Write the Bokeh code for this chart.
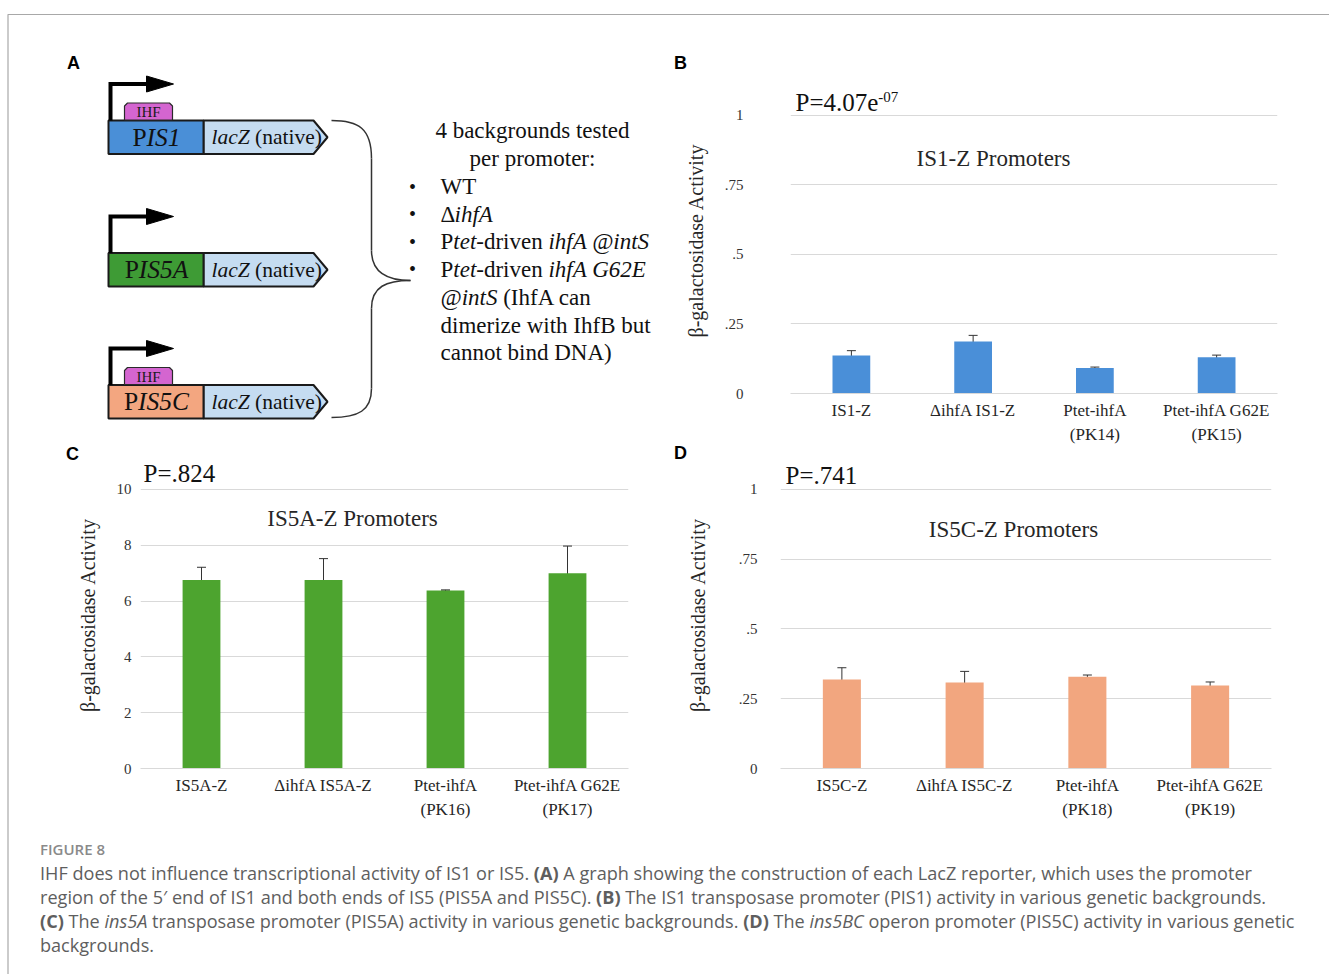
from bokeh.plotting import figure
from bokeh.models import (FactorRange, Range1d, FixedTicker, Whisker, TeeHead,
                          ColumnDataSource, Label, Div)
from bokeh.core.properties import value
from bokeh.embed import file_html
from bokeh.resources import INLINE

# ------------------------------------------------------------------ data
b_categories = ["IS1-Z", "ΔihfA IS1-Z", "Ptet-ihfA\n(PK14)", "Ptet-ihfA G62E\n(PK15)"]
b_means = [0.137, 0.187, 0.092, 0.130]
b_errors = [0.017, 0.022, 0.003, 0.008]

c_categories = ["IS5A-Z", "ΔihfA IS5A-Z", "Ptet-ihfA\n(PK16)", "Ptet-ihfA G62E\n(PK17)"]
c_means = [6.75, 6.75, 6.38, 7.00]
c_errors = [0.46, 0.77, 0.02, 0.97]

d_categories = ["IS5C-Z", "ΔihfA IS5C-Z", "Ptet-ihfA\n(PK18)", "Ptet-ihfA G62E\n(PK19)"]
d_means = [0.319, 0.308, 0.329, 0.297]
d_errors = [0.042, 0.040, 0.006, 0.013]

frac_ticks = [0, 0.25, 0.5, 0.75, 1]
frac_tick_labels = ["0", ".25", ".5", ".75", "1"]
c_ticks = [0, 2, 4, 6, 8, 10]
c_tick_labels = ["0", "2", "4", "6", "8", "10"]

titles = ["IS1-Z Promoters", "IS5A-Z Promoters", "IS5C-Z Promoters"]
p_texts = ["P=4.07e", "P=.824", "P=.741"]
p_superscript = "-07"
y_axis_title = "β-galactosidase Activity"
panel_letters = ["A", "B", "C", "D"]

promoters = [("P", "IS1"), ("P", "IS5A"), ("P", "IS5C")]
promoter_colors = ["#4a8fd7", "#3e9b35", "#f3a680"]
promoter_has_ihf = [True, False, True]
reporter_runs = [("lacZ", True), (" (native)", False)]
header_lines = ["4 backgrounds tested", "per promoter:"]
bullet_lines = [
    [("WT", False)],
    [("Δ", False), ("ihfA", True)],
    [("P", False), ("tet", True), ("-driven ", False), ("ihfA @intS", True)],
    [("P", False), ("tet", True), ("-driven ", False), ("ihfA G62E", True)],
]
continuation_lines = [
    [("@intS", True), (" (IhfA can", False)],
    [("dimerize with IhfB but", False)],
    [("cannot bind DNA)", False)],
]

caption_title = "FIGURE 8"
caption_lines = [
    "IHF does not influence transcriptional activity of IS1 or IS5. <b>(A)</b> A graph showing the construction of each LacZ reporter, which uses the promoter",
    "region of the 5′ end of IS1 and both ends of IS5 (PIS5A and PIS5C). <b>(B)</b> The IS1 transposase promoter (PIS1) activity in various genetic backgrounds.",
    "<b>(C)</b> The <i>ins5A</i> transposase promoter (PIS5A) activity in various genetic backgrounds. <b>(D)</b> The <i>ins5BC</i> operon promoter (PIS5C) activity in various genetic",
    "backgrounds.",
]

# ------------------------------------------------------------------ styles
SERIF = "Liberation Serif"
SANS = "Liberation Sans"
GRID = "#d9d9d9"
TXT = "#262626"
b_color = "#4a8fd8"
c_color = "#4da42f"
d_color = "#f2a67f"

# Times / Liberation Serif advance widths (per 1000 em) for placing mixed-style runs
REG = {' ': 250, '(': 333, ')': 333, '-': 333, '.': 250, ':': 278, '@': 921, '=': 564,
       'A': 722, 'B': 667, 'C': 667, 'D': 722, 'E': 611, 'F': 556, 'G': 722, 'H': 722,
       'I': 333, 'N': 722, 'P': 556, 'S': 556, 'T': 611, 'W': 944, 'Z': 611,
       'a': 444, 'b': 500, 'c': 444, 'd': 500, 'e': 444, 'f': 333, 'g': 500, 'h': 500,
       'i': 278, 'k': 500, 'l': 278, 'm': 778, 'n': 500, 'o': 500, 'p': 500, 'r': 333,
       's': 389, 't': 278, 'u': 500, 'v': 500, 'w': 722, 'y': 500, 'z': 444, 'Δ': 612}
ITA = {' ': 250, '@': 920, 'A': 611, 'C': 667, 'E': 611, 'G': 722, 'I': 333, 'S': 500,
       'Z': 556, 'a': 500, 'c': 444, 'e': 444, 'f': 278, 'h': 500, 'i': 278, 'l': 278,
       'n': 500, 't': 278}


def tw(s, italic, size):
    m = ITA if italic else REG
    return sum(m.get(ch, 500) for ch in s) / 1000.0 * size


def draw_runs(p, x, y, runs, size, align="left", color="#111111"):
    total = sum(tw(t, i, size) for t, i in runs)
    cx = x - total / 2.0 if align == "center" else x
    for t, i in runs:
        lead = len(t) - len(t.lstrip(" "))
        body = t.strip(" ")
        sx = cx + tw(" " * lead, i, size)
        if body:
            p.text(x=[sx], y=[y], text=[body], text_font=value(SERIF),
                   text_font_size=f"{size}px",
                   text_font_style="italic" if i else "normal",
                   text_align="left", text_baseline="middle", text_color=color)
        cx += tw(t, i, size)


def bar_panel(name, cats, means, errs, color, ticks, tick_labels, y_end, width, height,
              borders, lab_standoff, axis_standoff, title, title_sx, title_y,
              ptext, p_sx, p_y, sup=None, sup_y=None):
    bl, br, bt, bb = borders
    p = figure(name=name, x_range=FactorRange(factors=cats), y_range=Range1d(0, y_end),
               width=width, height=height, output_backend="svg", toolbar_location=None,
               min_border_left=bl, min_border_right=br, min_border_top=bt, min_border_bottom=bb,
               outline_line_color=None, background_fill_alpha=0, border_fill_alpha=0)
    src = ColumnDataSource(dict(cat=cats, mean=means,
                                upper=[m + e for m, e in zip(means, errs)],
                                lower=[m - e for m, e in zip(means, errs)]))
    p.vbar(x="cat", top="mean", width=0.31, source=src, fill_color=color, line_color=None)
    p.add_layout(Whisker(source=src, base="cat", upper="upper", lower="lower",
                         line_color="#333333", line_width=1,
                         upper_head=TeeHead(size=9, line_color="#333333", line_width=1),
                         lower_head=TeeHead(size=9, line_color="#333333", line_width=1)))
    ticker = FixedTicker(ticks=ticks)
    ya = p.yaxis[0]
    ya.ticker = ticker
    ya.major_label_overrides = {t: s for t, s in zip(ticks, tick_labels)}
    ya.axis_label = y_axis_title
    ya.axis_label_text_font = SERIF
    ya.axis_label_text_font_size = "20px"
    ya.axis_label_text_font_style = "normal"
    ya.axis_label_text_color = TXT
    ya.axis_label_standoff = axis_standoff
    ya.major_label_standoff = lab_standoff
    ya.major_label_text_font = SERIF
    ya.major_label_text_font_size = "15px"
    ya.major_label_text_color = "#333333"
    ya.axis_line_color = None
    ya.major_tick_line_color = None
    ya.minor_tick_line_color = None
    ya.major_tick_out = 0
    ya.major_tick_in = 0
    xa = p.xaxis[0]
    xa.major_label_text_font = SERIF
    xa.major_label_text_font_size = "17px"
    xa.major_label_text_color = TXT
    xa.major_label_text_line_height = 1.3
    xa.major_label_standoff = 7
    xa.axis_line_color = GRID
    xa.major_tick_line_color = None
    xa.major_tick_out = 0
    xa.major_tick_in = 0
    p.xgrid.visible = False
    p.ygrid.ticker = ticker
    p.ygrid.grid_line_color = GRID
    p.ygrid.grid_line_width = 1

    p.add_layout(Label(x=title_sx, y=title_y, x_units="screen", y_units="data",
                       text=title, text_font=SERIF, text_font_size="23px",
                       text_color=TXT, text_align="center", text_baseline="middle"))
    p.add_layout(Label(x=p_sx, y=p_y, x_units="screen", y_units="data",
                       text=ptext, text_font=SERIF, text_font_size="25px",
                       text_color="#111111", text_align="left", text_baseline="middle"))
    if sup:
        p.add_layout(Label(x=p_sx + tw(ptext, False, 25), y=sup_y, x_units="screen",
                           y_units="data", text=sup, text_font=SERIF,
                           text_font_size="15px", text_color="#111111",
                           text_align="left", text_baseline="middle"))
    return p


# ------------------------------------------------------------------ background page
bg = figure(name="bg", width=1329, height=974, x_range=Range1d(0, 1329), y_range=Range1d(974, 0),
            output_backend="svg", toolbar_location=None, min_border=0,
            x_axis_location=None, y_axis_location=None, outline_line_color=None,
            background_fill_color="white", border_fill_color="white")
bg.xgrid.visible = False
bg.ygrid.visible = False

# frame lines
bg.line(x=[7.5, 7.5, 1329], y=[974, 14, 14], line_color="#a8a8a8", line_width=1.2)

# panel letters
bg.text(x=[73, 680, 72, 680], y=[62, 62, 453, 452], text=panel_letters,
        text_font=value(SANS), text_font_size="18px", text_font_style="bold",
        text_align="center", text_baseline="middle", text_color="#000000")

# panel A diagram
box_tops = [120, 252.5, 384.5]
BOX_H = 33.5
for (pre, nm), col, ihf, top in zip(promoters, promoter_colors, promoter_has_ihf, box_tops):
    bot = top + BOX_H
    mid = top + BOX_H / 2
    bg.patch(x=[203, 313, 327, 313, 203], y=[top, top, mid, bot, bot],
             fill_color="#c5dcf1", line_color="#1a1a1a", line_width=2)
    bg.patch(x=[108, 203, 203, 108], y=[top, top, bot, bot],
             fill_color=col, line_color="#1a1a1a", line_width=2)
    ay = top - 36.5
    bg.line(x=[110, 110, 149], y=[top, ay, ay], line_color="#000000",
            line_width=4, line_join="miter", line_cap="butt")
    bg.patch(x=[146, 173, 146], y=[ay - 8, ay, ay + 8], fill_color="#000000",
             line_color="#000000", line_width=1)
    if ihf:
        it, ib = top - 17.5, top - 0.5
        bg.patch(x=[127, 169, 172, 172, 124, 124], y=[it, it, it + 3, ib, ib, it + 3],
                 fill_color="#d465d0", line_color="#2a2a2a", line_width=1.2)
        bg.text(x=[148], y=[(it + ib) / 2 + 0.5], text=["IHF"], text_font=value(SERIF),
                text_font_size="15px", text_align="center", text_baseline="middle",
                text_color="#1a1a1a")
    draw_runs(bg, 156, mid, [(pre, False), (nm, True)], 25.5, align="center")
    draw_runs(bg, 211, mid, reporter_runs, 21.5)

# curly brace
bg.bezier(x0=[331, 371, 410, 371], y0=[120, 250, 280, 388],
          x1=[371, 410, 371, 331], y1=[158, 280, 308, 417],
          cx0=[358, 371, 386, 371], cy0=[120, 272, 280, 410],
          cx1=[371, 386, 371, 358], cy1=[128, 280, 286, 417],
          line_color="#333333", line_width=1.5)
bg.line(x=[371, 371], y=[158, 250], line_color="#333333", line_width=1.5)
bg.line(x=[371, 371], y=[308, 388], line_color="#333333", line_width=1.5)

TXT_SIZE = 23
for k, line in enumerate(header_lines):
    draw_runs(bg, 532, 130 + 28 * k, [(line, False)], TXT_SIZE, align="center")
for k, runs in enumerate(bullet_lines):
    y = 186 + 27.6 * k
    bg.text(x=[412], y=[y], text=["•"], text_font=value(SERIF), text_font_size="20px",
            text_align="center", text_baseline="middle", text_color="#111111")
    draw_runs(bg, 440, y, runs, TXT_SIZE)
for k, runs in enumerate(continuation_lines):
    draw_runs(bg, 440, 297 + 27.6 * k, runs, TXT_SIZE)

# ------------------------------------------------------------------ charts
figB = bar_panel("chartB", b_categories, b_means, b_errors, b_color, frac_ticks, frac_tick_labels,
                 1.1, 659, 432, (120, 52, 72, 52), 47, 15,
                 titles[0], 203, 0.845, p_texts[0], 5, 1.045, sup=p_superscript, sup_y=1.066)
figC = bar_panel("chartC", c_categories, c_means, c_errors, c_color, c_ticks, c_tick_labels,
                 11, 661, 388, (131, 42, 14, 67), 9, 15,
                 titles[1], 212, 8.95, p_texts[1], 3, 10.56)
figD = bar_panel("chartD", d_categories, d_means, d_errors, d_color, frac_ticks, frac_tick_labels,
                 1.1, 659, 388, (110, 58, 14, 67), 23, 27,
                 titles[2], 233, 0.855, p_texts[2], 5, 1.05)

# ------------------------------------------------------------------ caption
cap_html = ('<div style="line-height:24px;white-space:nowrap;'
            'font-family:\'Open Sans\';font-size:18.1px;color:#5e5e5e;">'
            '<div style="font-size:15px;font-weight:600;color:#8a8a8a;">' + caption_title +
            '</div>' + '<br>'.join(caption_lines) + '</div>')
cap = Div(name="caption", text=cap_html, width=1285, height=130, margin=0)

TEMPLATE = """
{% from macros import embed %}
{% block contents %}
<div style="position:relative;width:1329px;height:974px;overflow:hidden;">
  <div style="position:absolute;left:0px;top:0px;">{{ embed(roots.bg) }}</div>
  <div style="position:absolute;left:670px;top:15px;">{{ embed(roots.chartB) }}</div>
  <div style="position:absolute;left:9px;top:447px;">{{ embed(roots.chartC) }}</div>
  <div style="position:absolute;left:670px;top:447px;">{{ embed(roots.chartD) }}</div>
  <div style="position:absolute;left:40px;top:837px;">{{ embed(roots.caption) }}</div>
</div>
{% endblock %}
"""

open("out.html", "w").write(file_html([bg, figB, figC, figD, cap], INLINE, template=TEMPLATE))
